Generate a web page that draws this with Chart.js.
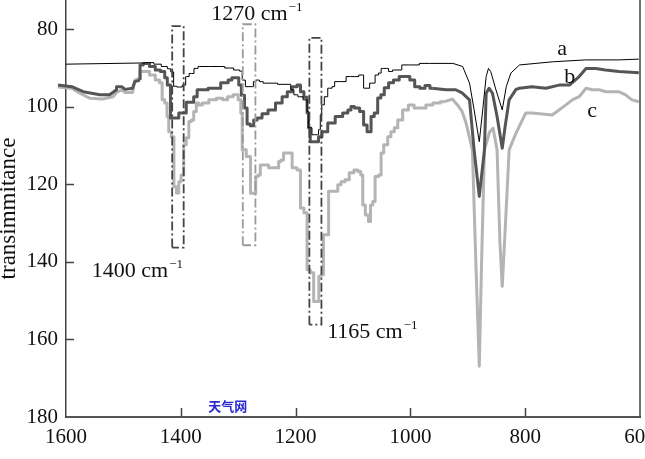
<!DOCTYPE html>
<html>
<head>
<meta charset="utf-8">
<script src="https://cdn.jsdelivr.net/npm/chart.js@4.4.0/dist/chart.umd.min.js"></script>
<style>
  html, body { margin: 0; padding: 0; background: #fff; }
</style>
</head>
<body>
<canvas id="chart" width="645" height="459"></canvas>
<script>
// IR spectra, wavenumber (cm-1) vs transmittance
const aX = [1600, 1471, 1454, 1440, 1428, 1419, 1416, 1413, 1412, 1402, 1393, 1390, 1381, 1373, 1367, 1332, 1315, 1301, 1294, 1292,
  1288, 1287, 1275, 1272, 1266, 1260, 1253, 1210, 1207, 1199, 1193, 1181, 1179, 1176, 1167, 1162, 1158, 1156, 1153, 1147,
  1141, 1132, 1132, 1112, 1112, 1097, 1083, 1080, 1071, 1071, 1063, 1060, 1051, 1051, 1042, 1034, 1028, 1002, 967, 926,
  909, 897, 889, 880, 874, 868, 864, 860, 851, 840, 833, 825, 810, 753, 695, 637, 602];
const aY = [89.0, 88.7, 88.6, 89.0, 89.6, 90.2, 91.0, 91.0, 94.7, 94.9, 94.4, 92.2, 91.4, 90.1, 89.6, 89.6, 90.0, 90.5, 90.8, 93.1,
  93.1, 94.8, 94.8, 93.5, 93.1, 93.5, 93.9, 94.2, 95.6, 96.9, 97.4, 98.2, 101.2, 105.4, 107.2, 107.2, 105.9, 102.1, 99.5, 97.4,
  95.2, 94.8, 93.5, 93.5, 92.2, 92.2, 91.8, 95.2, 95.2, 93.9, 93.9, 91.8, 91.3, 90.1, 90.1, 90.9, 90.5, 89.2, 88.8, 88.8,
  89.6, 93.9, 100.8, 109.0, 100.8, 92.2, 90.1, 90.9, 95.6, 100.8, 94.8, 91.3, 89.2, 88.4, 87.9, 87.9, 87.7];

const bX = [1614, 1590, 1570, 1541, 1524, 1512, 1512, 1503, 1497, 1484, 1480, 1471, 1471, 1460, 1449, 1440, 1431, 1425, 1422, 1414,
  1405, 1402, 1393, 1388, 1379, 1376, 1367, 1338, 1323, 1312, 1310, 1301, 1297, 1292, 1286, 1283, 1275, 1271, 1263, 1254,
  1242, 1228, 1219, 1210, 1202, 1193, 1190, 1181, 1179, 1176, 1173, 1162, 1158, 1150, 1138, 1124, 1112, 1106, 1101, 1094,
  1083, 1080, 1071, 1066, 1060, 1054, 1049, 1042, 1034, 1025, 1014, 1005, 997, 988, 979, 970, 962, 938, 921, 910,
  897, 889, 880, 871, 868, 863, 857, 849, 840, 835, 828, 816, 810, 788, 764, 741, 723, 706, 694, 677,
  660, 637, 602];
const bY = [94.4, 94.8, 96.1, 96.9, 96.9, 95.6, 94.8, 94.8, 95.5, 95.2, 93.5, 93.1, 89.2, 88.8, 89.6, 90.5, 90.9, 92.5, 94.4, 102.9,
  102.9, 101.6, 101.6, 98.8, 98.8, 97.4, 95.6, 95.2, 93.8, 93.1, 92.5, 92.5, 94.4, 97.0, 100.3, 104.4, 104.9, 103.4, 102.9, 101.8,
  100.8, 99.0, 97.4, 96.1, 94.8, 94.4, 96.1, 97.5, 101.6, 105.4, 109.0, 109.0, 107.7, 106.4, 104.2, 102.5, 101.6, 100.8, 99.9, 100.3,
  101.2, 104.7, 106.4, 102.5, 101.6, 97.7, 96.9, 95.1, 93.8, 93.1, 92.2, 92.2, 93.1, 94.8, 95.2, 94.5, 95.2, 95.6, 95.6, 96.4,
  98.2, 111.1, 123.1, 111.1, 96.5, 95.2, 96.5, 102.5, 110.7, 105.1, 98.2, 95.5, 95.2, 94.8, 95.2, 94.4, 94.4, 92.2, 90.1, 90.1,
  90.5, 90.9, 91.2];

const cX = [1614, 1590, 1576, 1558, 1536, 1518, 1512, 1503, 1497, 1484, 1480, 1471, 1471, 1460, 1449, 1440, 1434, 1431, 1425, 1423,
  1419, 1414, 1410, 1405, 1402, 1397, 1393, 1388, 1384, 1379, 1376, 1370, 1367, 1358, 1344, 1332, 1322, 1315, 1303, 1297,
  1294, 1292, 1280, 1277, 1271, 1268, 1263, 1260, 1249, 1245, 1231, 1228, 1223, 1219, 1210, 1202, 1193, 1190, 1181, 1179,
  1170, 1167, 1161, 1158, 1153, 1150, 1144, 1141, 1129, 1124, 1118, 1110, 1103, 1094, 1089, 1084, 1082, 1075, 1071, 1068,
  1063, 1060, 1051, 1051, 1042, 1037, 1031, 1025, 1019, 1008, 999, 988, 979, 967, 955, 941, 927, 918, 910, 903,
  892, 886, 880, 876, 871, 862, 856, 849, 844, 840, 836, 828, 816, 799, 788, 753, 741, 729, 718, 706,
  694, 683, 671, 660, 637, 625, 614, 602];
const cY = [94.9, 95.2, 96.5, 97.8, 98.0, 97.4, 96.3, 95.6, 96.3, 96.3, 93.1, 92.6, 90.9, 90.9, 91.8, 93.1, 93.8, 98.2, 99.0, 102.5,
  106.4, 107.7, 120.6, 122.2, 119.3, 117.6, 109.8, 108.0, 103.8, 103.4, 101.2, 99.0, 99.5, 99.0, 98.2, 97.8, 98.2, 97.4, 96.9, 98.2,
  101.6, 111.1, 112.8, 122.3, 122.3, 118.0, 117.6, 115.0, 115.0, 115.7, 115.7, 114.1, 113.7, 111.9, 111.9, 115.7, 116.3, 126.1, 127.3, 142.0,
  142.8, 150.2, 150.2, 143.7, 143.3, 133.0, 133.0, 121.8, 121.8, 120.1, 119.3, 118.8, 117.0, 116.3, 116.7, 117.6, 125.3, 127.9, 129.6, 125.3,
  124.4, 118.0, 117.6, 111.9, 109.8, 107.7, 106.4, 105.4, 103.4, 100.8, 99.5, 100.3, 100.3, 99.5, 99.0, 98.7, 98.0, 99.5, 101.2, 104.2,
  111.1, 140.0, 166.9, 140.0, 111.1, 106.5, 105.5, 111.1, 135.0, 146.3, 135.0, 111.1, 106.8, 101.6, 101.6, 102.1, 100.8, 99.5, 98.2, 97.4,
  95.2, 95.6, 95.6, 96.1, 96.1, 96.9, 98.2, 98.7];

const X_TICKS = [1600, 1400, 1200, 1000, 800, 600];
const Y_TICKS = [80, 100, 120, 140, 160, 180];

const STEP_HI = 1471;
const STEP_LO = 941;

// dash-dot boxes around the marked bands: [left, right] wavenumber, [top, bottom] transmittance
const boxX = [[1415, 1395], [1292, 1270], [1176, 1155]];
const boxY = [[79.2, 136.3], [78.7, 135.7], [82.2, 156.2]];
const boxColor = ['#444', '#9a9a9a', '#444'];

// text labels placed in data coordinates (x = left edge, y = baseline)
const noteText = ['1270 cm', '1400 cm', '1165 cm', 'a', 'b', 'c'];
const noteSup = ['\u22121', '\u22121', '\u22121', '', '', ''];
const noteX = [1347, 1555, 1145, 744, 732, 692];
const noteY = [77.6, 144, 159.6, 86.6, 93.9, 102.5];

const SERIF = '"Liberation Serif", "Times New Roman", serif';

// cut a trace in three pieces that share their end points:
// smooth / stepped / smooth
function split(xs, ys) {
  const all = xs.map((x, i) => ({ x: x, y: ys[i] }));
  const i0 = all.findIndex(p => p.x <= STEP_HI);
  let i1 = all.length - 1;
  while (all[i1].x < STEP_LO) i1--;
  return [all.slice(0, i0 + 1), all.slice(i0, i1 + 1), all.slice(i1)];
}

function boxPts(i) {
  const [x0, x1] = boxX[i];
  const [y0, y1] = boxY[i];
  return [{ x: x0, y: y1 }, { x: x0, y: y0 }, { x: x1, y: y0 }, { x: x1, y: y1 }, { x: x0, y: y1 }];
}

const curves = [
  { xs: aX, ys: aY, color: '#000', width: 1, order: 1 },
  { xs: bX, ys: bY, color: '#555', width: 3, order: 2 },
  { xs: cX, ys: cY, color: '#b4b4b4', width: 3, order: 3 }
];

const datasets = [];
curves.forEach(c => {
  const base = { borderColor: c.color, borderWidth: c.width, order: c.order, clip: false, borderJoinStyle: 'round' };
  const parts = split(c.xs, c.ys);
  datasets.push(Object.assign({ data: parts[0] }, base));
  datasets.push(Object.assign({ data: parts[1], stepped: 'middle' }, base));
  datasets.push(Object.assign({ data: parts[2] }, base));
});
boxX.forEach((_, i) => {
  datasets.push({
    data: boxPts(i), borderColor: boxColor[i], borderWidth: 1.8,
    borderDash: [9, 3, 2, 3], order: 0
  });
});

// inward tick marks, right frame line, text labels
const decor = {
  id: 'decor',
  afterDraw(chart) {
    const { ctx, chartArea: ca, scales: { x, y } } = chart;
    ctx.save();
    ctx.strokeStyle = '#444';
    ctx.lineWidth = 1.5;
    ctx.beginPath();
    ctx.moveTo(ca.right, ca.top);
    ctx.lineTo(ca.right, ca.bottom);
    Y_TICKS.slice(0, -1).forEach(v => {
      const py = Math.round(y.getPixelForValue(v)) + 0.5;
      ctx.moveTo(ca.left, py);
      ctx.lineTo(ca.left + 8, py);
    });
    X_TICKS.slice(1, -1).forEach(v => {
      const px = Math.round(x.getPixelForValue(v)) + 0.5;
      ctx.moveTo(px, ca.bottom);
      ctx.lineTo(px, ca.bottom - 9);
    });
    ctx.stroke();

    ctx.fillStyle = '#111';
    ctx.textBaseline = 'alphabetic';
    ctx.textAlign = 'left';
    noteText.forEach((t, i) => {
      const px = x.getPixelForValue(noteX[i]);
      const py = y.getPixelForValue(noteY[i]);
      ctx.font = '22px ' + SERIF;
      ctx.fillText(t, px, py);
      if (noteSup[i]) {
        const w = ctx.measureText(t).width;
        ctx.font = '13px ' + SERIF;
        ctx.fillText(noteSup[i], px + w + 1, py - 9);
      }
    });

    ctx.font = 'bold 13px "Noto Sans CJK SC"';
    ctx.fillStyle = '#2a2ad0';
    ctx.fillText('天气网', x.getPixelForValue(1352), y.getPixelForValue(178.4));
    ctx.restore();
  }
};

new Chart(document.getElementById('chart'), {
  type: 'scatter',
  data: { datasets: datasets },
  options: {
    responsive: false,
    animation: false,
    showLine: true,
    layout: { padding: { top: 0, right: 5, left: 0, bottom: 0 } },
    elements: {
      point: { radius: 0, hoverRadius: 0 },
      line: { tension: 0, fill: false }
    },
    plugins: {
      legend: { display: false },
      tooltip: { enabled: false }
    },
    scales: {
      x: {
        type: 'linear',
        reverse: true,
        min: 600,
        max: 1600,
        afterBuildTicks: s => { s.ticks = X_TICKS.map(v => ({ value: v })); },
        afterFit: s => { s.height = 42; s.paddingLeft = 0; s.paddingRight = 0; },
        grid: { display: false, drawTicks: false },
        border: { display: true, color: '#555', width: 2 },
        ticks: {
          color: '#111', padding: 8, maxRotation: 0, autoSkip: false,
          font: { family: SERIF, size: 21 },
          callback: v => String(v)
        }
      },
      y: {
        type: 'linear',
        reverse: true,
        min: 72.45,
        max: 180,
        afterBuildTicks: s => { s.ticks = Y_TICKS.map(v => ({ value: v })); },
        afterFit: s => { s.width = 66; s.paddingTop = 0; s.paddingBottom = 0; },
        grid: { display: false, drawTicks: false },
        border: { display: true, color: '#444', width: 1.5 },
        ticks: {
          color: '#111', padding: 8,
          font: { family: SERIF, size: 21 },
          callback: v => String(v)
        },
        title: {
          display: true, text: 'transimmitance', color: '#111',
          font: { family: SERIF, size: 23 },
          padding: { top: -5, bottom: 0 }
        }
      }
    }
  },
  plugins: [decor]
});
</script>
</body>
</html>
